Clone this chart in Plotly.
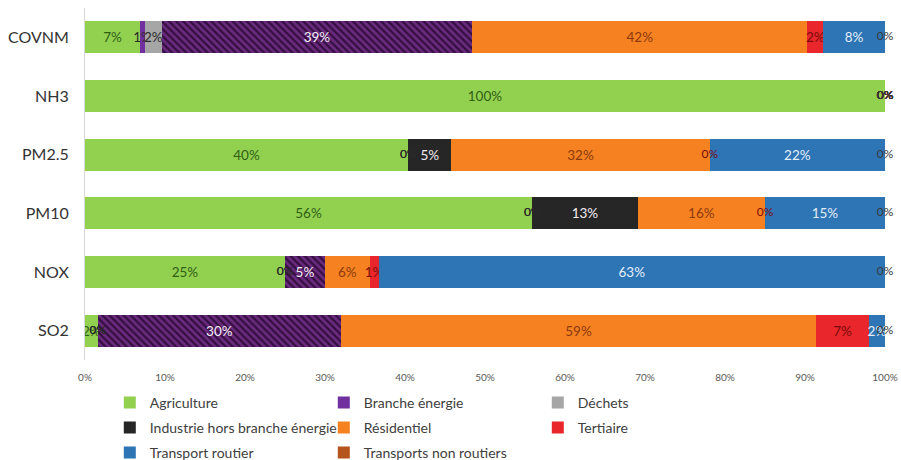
import plotly.graph_objects as go

# Emission shares by sector (%), one list per sector, in category order
categories = ["COVNM", "NH3", "PM2.5", "PM10", "NOX", "SO2"]
agriculture = [6.9, 100.0, 40.4, 55.9, 25.0, 1.6]
branche_energie = [0.6, 0, 0, 0, 0, 0]
dechets = [2.1, 0, 0, 0, 0, 0]
industrie = [38.8, 0, 5.4, 13.2, 5.0, 30.4]
residentiel = [41.9, 0, 32.3, 15.9, 5.6, 59.4]
tertiaire = [2.0, 0, 0, 0, 1.1, 6.6]
transport_routier = [7.7, 0, 21.9, 15.0, 63.3, 2.0]
transports_non_routiers = [0, 0, 0, 0, 0, 0]

tick_values = [0, 10, 20, 30, 40, 50, 60, 70, 80, 90, 100]
tick_labels = ["0%", "10%", "20%", "30%", "40%", "50%", "60%", "70%", "80%", "90%", "100%"]

FONT = "Lato"

# (name, values, bar colour, label colour, legend row)
series = [
    ("Agriculture", agriculture, "#92D050", "#2F5F14", "legend"),
    ("Branche énergie", branche_energie, "#7030A0", "#2A2A2A", "legend"),
    ("Déchets", dechets, "#A6A6A6", "#2A2A2A", "legend"),
    ("Industrie hors branche énergie", industrie, "#262626", "#F4ECF4", "legend2"),
    ("Résidentiel", residentiel, "#F68121", "#8B3A10", "legend2"),
    ("Tertiaire", tertiaire, "#E8262B", "#7A0C0C", "legend2"),
    ("Transport routier", transport_routier, "#2E75B6", "#E4EDF7", "legend3"),
    ("Transports non routiers", transports_non_routiers, "#B5541C", "#3A3A3A", "legend3"),
]

# Industry segments drawn with a purple hatch for these pollutants
hatched = ["COVNM", "NOX", "SO2"]
HATCH_BG = "#6A2A7E"
HATCH_FG = "#340E40"


def add_bar(name, vals, marker, tcolor, leg, rank, showlegend=True):
    fig.add_trace(go.Bar(
        name=name,
        y=categories,
        x=vals,
        orientation="h",
        marker=marker,
        showlegend=showlegend,
        legend=leg,
        legendrank=rank,
        texttemplate=["%{x:.0f}%" if v > 0 else "" for v in vals],
        textposition="inside",
        insidetextanchor="middle",
        constraintext="none",
        textangle=0,
        textfont=dict(family="Lato", size=13.5, color=tcolor),
        hoverinfo="skip",
    ))


fig = go.Figure()

for rank, (name, vals, color, tcolor, leg) in enumerate(series, start=1):
    if name.startswith("Industrie"):
        solid = [0 if c in hatched else v for c, v in zip(categories, vals)]
        striped = [v if c in hatched else 0 for c, v in zip(categories, vals)]
        add_bar(name, solid, dict(color=color, line=dict(width=0)), tcolor, leg, rank)
        add_bar(name, striped, dict(
            color=HATCH_BG,
            line=dict(width=0),
            pattern=dict(shape="\\", bgcolor=HATCH_BG, fgcolor=HATCH_FG,
                         fgopacity=1, fillmode="replace", size=5, solidity=0.45),
        ), tcolor, leg, rank, showlegend=False)
    else:
        add_bar(name, vals, dict(color=color, line=dict(width=0)), tcolor, leg, rank)

# "0%" labels for empty segments, placed at their stacked position
zx, zy, zc = [], [], []
for i, cat in enumerate(categories):
    cum = 0.0
    for name, vals, color, tcolor, leg in series:
        v = vals[i]
        if v == 0:
            zx.append(cum)
            zy.append(cat)
            zc.append("#2A2A2A" if tcolor.startswith(("#F", "#E")) else tcolor)
        cum += v
fig.add_trace(go.Scatter(
    x=zx, y=zy, mode="text", text=["0%"] * len(zx),
    textposition="middle center",
    textfont=dict(family=FONT, size=12, color=zc),
    cliponaxis=False,
    showlegend=False, hoverinfo="skip",
))

legend_common = dict(
    orientation="h",
    x=0.031,
    xanchor="left",
    yanchor="middle",
    entrywidth=169,
    entrywidthmode="pixels",
    traceorder="normal",
    font=dict(family=FONT, size=14, color="#404040"),
    itemwidth=30,
    bgcolor="rgba(0,0,0,0)",
)

# plot area spans 8..360 px vertically; legend rows at ~403, 428, 453 px
def row_y(px):
    return (360 - px) / 352

fig.update_layout(
    width=901,
    height=460,
    barmode="stack",
    bargap=0.45,
    plot_bgcolor="white",
    paper_bgcolor="white",
    margin=dict(l=85, r=16, t=8, b=100, autoexpand=False),
    font=dict(family=FONT, color="#404040"),
    xaxis=dict(
        range=[0, 100],
        tickvals=tick_values,
        ticktext=tick_labels,
        tickfont=dict(family=FONT, size=10, color="#595959"),
        showgrid=False,
        zeroline=False,
        showline=False,
        ticks="outside",
        ticklen=8,
        tickcolor="rgba(0,0,0,0)",
        fixedrange=True,
    ),
    yaxis=dict(
        categoryorder="array",
        categoryarray=categories,
        autorange="reversed",
        tickfont=dict(family=FONT, size=16, color="#333333"),
        showgrid=False,
        zeroline=False,
        showline=True,
        linecolor="#D9D9D9",
        linewidth=1,
        ticks="outside",
        ticklen=12,
        tickcolor="rgba(0,0,0,0)",
        fixedrange=True,
    ),
    legend=dict(legend_common, y=row_y(403)),
    legend2=dict(legend_common, y=row_y(428)),
    legend3=dict(legend_common, y=row_y(453)),
)

fig.write_html("out.html")
